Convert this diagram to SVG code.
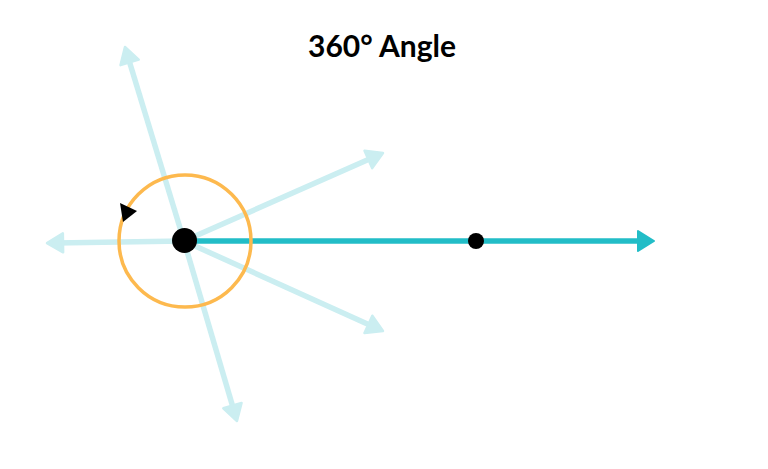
<svg xmlns="http://www.w3.org/2000/svg" width="768" height="469" viewBox="0 0 768 469">
<defs>
<style>
.ray{stroke:#CBEEF1;stroke-width:5.5;fill:none}
.main{stroke:#22BDC7;stroke-width:5.5;fill:none}
.title{font-family:Lato,"Open Sans",sans-serif;font-weight:bold;font-size:30px;fill:#000;text-anchor:middle}
</style>
<marker id="ah-light" markerUnits="userSpaceOnUse" viewBox="-2 -12 22 24" refX="8" refY="0" markerWidth="22" markerHeight="24" orient="auto">
<path d="M0,-9.5 L16,0 L0,9.5 Z" fill="#CBEEF1" stroke="#CBEEF1" stroke-width="2.5" stroke-linejoin="round"/>
</marker>
<marker id="ah-main" markerUnits="userSpaceOnUse" viewBox="-2 -12 22 24" refX="8" refY="0" markerWidth="22" markerHeight="24" orient="auto">
<path d="M0,-10 L16,0 L0,10 Z" fill="#22BDC7" stroke="#22BDC7" stroke-width="2" stroke-linejoin="round"/>
</marker>
</defs>
<rect width="768" height="469" fill="#fff"/>
<text class="title" x="382" y="57">360° Angle</text>
<g id="connectors">
<line class="ray" x1="184" y1="241" x2="127.3" y2="54.7" marker-end="url(#ah-light)"/>
<line class="ray" x1="184" y1="241" x2="375.7" y2="156.2" marker-end="url(#ah-light)"/>
<line class="ray" x1="184" y1="241" x2="375.7" y2="327.7" marker-end="url(#ah-light)"/>
<line class="ray" x1="184" y1="241" x2="234.7" y2="413.3" marker-end="url(#ah-light)"/>
<line class="ray" x1="184" y1="241" x2="55" y2="243" marker-end="url(#ah-light)"/>
<line class="main" x1="184" y1="241" x2="646" y2="241" marker-end="url(#ah-main)"/>
</g>
<g id="angle-circle">
<circle cx="185" cy="241" r="66" fill="none" stroke="#FDB94E" stroke-width="3.5"/>
<polygon points="120,203 137,211 123,222" fill="#000"/>
</g>
<g id="vertex">
<circle cx="184.5" cy="240.5" r="12.5" fill="#000"/>
</g>
<g id="point">
<circle cx="476" cy="241" r="8" fill="#000"/>
</g>
</svg>
